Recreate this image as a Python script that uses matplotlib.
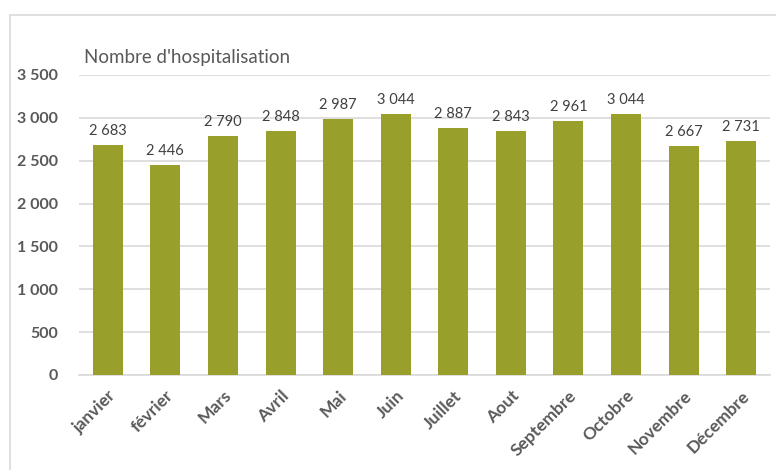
import matplotlib
matplotlib.use("Agg")
import matplotlib.pyplot as plt
from matplotlib.patches import Rectangle

months = ["janvier", "février", "Mars", "Avril", "Mai", "Juin", "Juillet",
          "Aout", "Septembre", "Octobre", "Novembre", "Décembre"]
values = [2683, 2446, 2790, 2848, 2987, 3044, 2887, 2843, 2961, 3044, 2667, 2731]
yticks = [0, 500, 1000, 1500, 2000, 2500, 3000, 3500]
title = "Nombre d'hospitalisation"

plt.rcParams['font.family'] = ['Lato', 'DejaVu Sans']
W, H = 776, 470
fig = plt.figure(figsize=(W/100, H/100), dpi=100)
fig.patches.append(Rectangle((10/W, -0.1), 2, (1 - 15/H) + 0.1, transform=fig.transFigure,
                             fill=False, edgecolor='#D9D9D9', linewidth=1.2))

ax = fig.add_axes([79/W, 1 - 375/H, 691/W, 300/H])
x = range(len(months))
ax.bar(x, values, width=0.52, color='#98A02B', zorder=3)
ax.set_xlim(-0.5, len(months) - 0.5)
ax.set_ylim(0, 3500)
ax.set_yticks(yticks)
ax.set_yticklabels([f"{v:,}".replace(",", " ") for v in yticks],
                   fontsize=11.5, fontweight='bold', color='#595959')
ax.set_xticks(list(x))
ax.set_xticklabels(months, rotation=45, ha='right', va='top', rotation_mode='anchor',
                   fontsize=12.5, fontweight='bold', color='#595959')
ax.tick_params(axis='both', length=0)
ax.tick_params(axis='y', pad=15)
ax.tick_params(axis='x', pad=9)
ax.grid(axis='y', color='#D9D9D9', linewidth=1.2, zorder=0)
for s in ['top', 'right', 'left']:
    ax.spines[s].set_visible(False)
ax.spines['bottom'].set_color('#D9D9D9')
ax.spines['bottom'].set_linewidth(1.2)

for i, v in enumerate(values):
    ax.annotate(f"{v:,}".replace(",", " "), (i, v), xytext=(0, 5), textcoords='offset points',
                ha='center', va='bottom', fontsize=10.5, color='#404040')

fig.text(84/W, 1 - 58/H, title, fontsize=13.5, color='#595959', ha='left', va='center')

fig.savefig("out.png", dpi=100)
